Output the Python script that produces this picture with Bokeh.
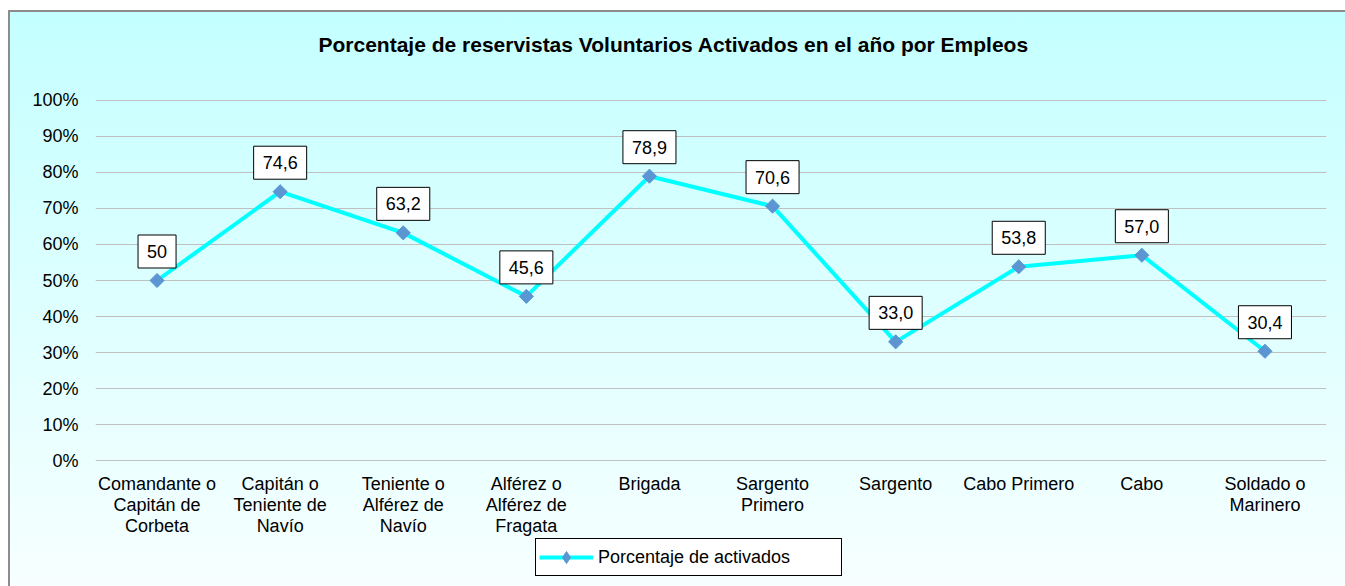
import numpy as np
from bokeh.plotting import figure
from bokeh.layouts import column
from bokeh.models import (FactorRange, Range1d, FixedTicker, PrintfTickFormatter,
                          Label, Legend, LegendItem, Title)
from bokeh.embed import file_html
from bokeh.resources import INLINE

categories = [
    "Comandante o\nCapitán de\nCorbeta",
    "Capitán o\nTeniente de\nNavío",
    "Teniente o\nAlférez de\nNavío",
    "Alférez o\nAlférez de\nFragata",
    "Brigada",
    "Sargento\nPrimero",
    "Sargento",
    "Cabo Primero",
    "Cabo",
    "Soldado o\nMarinero",
]
values = [50, 74.6, 63.2, 45.6, 78.9, 70.6, 33.0, 53.8, 57.0, 30.4]
value_labels = ["50", "74,6", "63,2", "45,6", "78,9", "70,6", "33,0", "53,8", "57,0", "30,4"]
y_ticks = [0, 10, 20, 30, 40, 50, 60, 70, 80, 90, 100]
series_name = "Porcentaje de activados"
title_text = "Porcentaje de reservistas Voluntarios Activados en el año por Empleos"

FONT = "Liberation Sans"
LINE_COLOR = "#00ffff"
MARKER_COLOR = "#5b96d3"

x_range = FactorRange(factors=categories)

p = figure(width=1345, height=538,
           x_range=x_range,
           y_range=Range1d(-0.15, 100.15),
           output_backend="svg", toolbar_location=None,
           min_border_left=95, min_border_right=19,
           min_border_top=99, min_border_bottom=75,
           border_fill_color=None, background_fill_color=None,
           outline_line_color=None)

# spacer between the frame and the title
p.add_layout(Title(text=" ", text_font_size="1px", standoff=41), "above")

p.title.text = title_text
p.title.align = "left"
p.title.offset = 223
p.title.text_font = FONT
p.title.text_font_size = "21px"
p.title.text_font_style = "bold"
p.title.text_color = "black"
p.title.standoff = 0

line_r = p.line(x=categories, y=values, line_color=LINE_COLOR, line_width=4)
pts = p.scatter(x=categories, y=values, marker="square", size=10, angle=np.pi / 4,
                fill_color=MARKER_COLOR, line_color=MARKER_COLOR)

# factor i sits at synthetic coordinate i + 0.5 on the FactorRange
for i, (v, t) in enumerate(zip(values, value_labels)):
    p.add_layout(Label(x=i + 0.5, y=v, text=t, y_offset=29,
                       text_align="center", text_baseline="middle",
                       text_font=FONT, text_font_size="18px", text_color="black",
                       background_fill_color="white", border_line_color="black",
                       border_line_width=1, padding=(9, 10)))

p.yaxis.ticker = FixedTicker(ticks=y_ticks)
p.yaxis.formatter = PrintfTickFormatter(format="%d%%")
for ax in (p.xaxis[0], p.yaxis[0]):
    ax.axis_line_color = None
    ax.major_tick_line_color = None
    ax.minor_tick_line_color = None
    ax.major_tick_out = 0
    ax.major_tick_in = 0
    ax.major_label_text_font = FONT
    ax.major_label_text_font_size = "18px"
    ax.major_label_text_color = "black"
p.yaxis.major_label_standoff = 17
p.xaxis.major_label_standoff = 12
p.xaxis.major_label_text_line_height = 1.05

p.xgrid.grid_line_color = None
p.ygrid.grid_line_color = "#c0c0c0"
p.ygrid.grid_line_width = 1

# legend strip below the chart (its series copy lies outside the strip's y range,
# so only the legend entry shows)
q = figure(width=1345, height=48, x_range=x_range, y_range=Range1d(-200, -100),
           output_backend="svg", toolbar_location=None,
           x_axis_location=None, y_axis_location=None,
           min_border=0, border_fill_color=None, background_fill_color=None,
           outline_line_color=None)
q.grid.visible = False
leg_line = q.line(x=categories, y=values, line_color=LINE_COLOR, line_width=4)
leg_pts = q.scatter(x=categories, y=values, marker="diamond", size=14,
                    fill_color=MARKER_COLOR, line_color=MARKER_COLOR)

legend = Legend(items=[LegendItem(label=series_name, renderers=[leg_line, leg_pts])],
                location=(440, 10), orientation="horizontal",
                border_line_color="black", border_line_width=1, border_line_alpha=1,
                background_fill_color="white", background_fill_alpha=1,
                label_text_font=FONT, label_text_font_size="18px", label_text_color="black",
                glyph_width=54, glyph_height=30, label_height=20,
                label_standoff=5, label_width=240, padding=3, margin=0)
q.add_layout(legend, "center")

layout = column(p, q, spacing=0, styles={
    "background": ("linear-gradient(#8c8c8c,#8c8c8c) 8px 10px / 100% 2px no-repeat, "
                   "linear-gradient(#8c8c8c,#8c8c8c) 8px 10px / 2px 100% no-repeat, "
                   "linear-gradient(to bottom, #c4ffff, #f8ffff) 8px 10px / 100% 100% no-repeat, "
                   "white")
})

open("out.html", "w").write(file_html(layout, INLINE))
